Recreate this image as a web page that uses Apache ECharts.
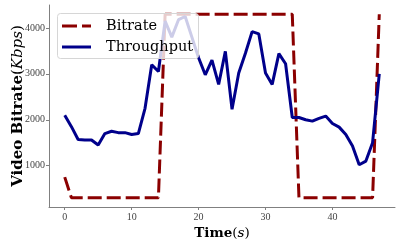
<!DOCTYPE html>
<html>
<head>
<meta charset="utf-8">
<script src="https://cdn.jsdelivr.net/npm/echarts@6/dist/echarts.min.js"></script>
<style>html,body{margin:0;padding:0;background:#fff}#c{width:407px;height:244px}</style>
</head>
<body>
<div id="c"></div>
<script>
var time = [0,1,2,3,4,5,6,7,8,9,10,11,12,13,14,15,16,17,18,19,20,21,22,23,24,25,26,27,28,29,30,31,32,33,34,35,36,37,38,39,40,41,42,43,44,45,46,47];
var bitrate = [750,300,300,300,300,300,300,300,300,300,300,300,300,300,300,4300,4300,4300,4300,4300,4300,4300,4300,4300,4300,4300,4300,4300,4300,4300,4300,4300,4300,4300,4300,300,300,300,300,300,300,300,300,300,300,300,300,4300];
var throughput = [2100,1850,1570,1560,1560,1450,1700,1750,1720,1720,1680,1700,2250,3200,3050,4150,3800,4180,4250,3800,3350,2980,3300,2770,3490,2230,3020,3450,3920,3870,3020,2770,3440,3220,2050,2050,2000,1970,2030,2080,1920,1840,1680,1430,1020,1100,1500,3000];
var xTicks = [0,10,20,30,40];
var yTicks = [1000,2000,3000,4000];

function pairs(xs, ys){ return xs.map(function(x,i){ return [x, ys[i]]; }); }

var serif = '"DejaVu Serif", "Liberation Serif", serif';
var tickFont = '"Liberation Serif", "DejaVu Serif", serif';
var chart = echarts.init(document.getElementById('c'), null, {renderer:'canvas'});
chart.setOption({
  animation: false,
  backgroundColor: '#fff',
  grid: {left: 49, right: 12, top: 5, bottom: 37, containLabel: false, outerBoundsMode: 'none'},
  legend: {
    left: 57, top: 13, orient: 'vertical', z: 1001,
    padding: [5, 6, 5, 5],
    itemWidth: 29, itemHeight: 3, itemGap: 5,
    textStyle: {fontFamily: serif, fontSize: 14.5, color: '#000', padding: [0,0,0,10], lineHeight: 16},
    data: [
      {name: 'Bitrate', icon: 'path://M0,0h15v3h-15z M20,0h9v3h-9z'},
      {name: 'Throughput', icon: 'path://M0,0h29v3h-29z'}
    ]
  },
  xAxis: {
    type: 'value', min: -2.35, max: 49.35,
    splitLine: {show: false},
    axisLine: {show: true, onZero: false, lineStyle: {color: '#808080', width: 1}},
    axisTick: {show: true, length: 3, lineStyle: {color: '#808080'}, customValues: xTicks},
    axisLabel: {fontFamily: tickFont, fontSize: 10, color: '#444', margin: 5, customValues: xTicks,
      formatter: function(v){ return String(v); }},
    name: '{b|Time}{n|(}{i|s}{n|)}', nameLocation: 'middle', nameGap: 13,
    nameTextStyle: {
      verticalAlign: 'top',
      rich: {
        b: {fontFamily: serif, fontSize: 13.5, fontWeight: 'bold', color: '#000'},
        n: {fontFamily: serif, fontSize: 13.5, color: '#000'},
        i: {fontFamily: serif, fontSize: 13.5, fontStyle: 'italic', color: '#000'}
      }
    }
  },
  yAxis: {
    type: 'value', min: 100, max: 4500,
    splitLine: {show: false},
    axisLine: {show: true, onZero: false, lineStyle: {color: '#808080', width: 1}},
    axisTick: {show: true, length: 3, lineStyle: {color: '#808080'}, customValues: yTicks},
    axisLabel: {fontFamily: tickFont, fontSize: 10, color: '#444', margin: 4, customValues: yTicks,
      formatter: function(v){ return String(v); }},
    name: '{b|Video Bitrate}{n|(}{i|Kbps}{n|)}', nameLocation: 'middle', nameGap: 23, nameRotate: 90,
    nameMoveOverlap: false,
    nameTextStyle: {
      rich: {
        b: {fontFamily: serif, fontSize: 15, fontWeight: 'bold', color: '#000'},
        n: {fontFamily: serif, fontSize: 15, color: '#000'},
        i: {fontFamily: serif, fontSize: 15, fontStyle: 'italic', color: '#000'}
      }
    }
  },
  series: [
    {
      name: 'Bitrate', type: 'line', data: pairs(time, bitrate), z: 2,
      showSymbol: false, symbol: 'none',
      lineStyle: {color: '#8b0000', width: 3, type: [14, 5]},
      itemStyle: {color: '#8b0000'}
    },
    {
      name: 'Throughput', type: 'line', data: pairs(time, throughput), z: 3,
      showSymbol: false, symbol: 'none',
      lineStyle: {color: '#00008b', width: 3},
      itemStyle: {color: '#00008b'}
    }
  ]
});
// Semi-transparent legend frame drawn straight into the zrender scene, above the series lines
var frame = new echarts.graphic.Rect({
  shape: {x: 57.5, y: 13.5, width: 141, height: 45, r: 3},
  style: {fill: 'rgba(255,255,255,0.8)', stroke: '#d6d6d6', lineWidth: 1},
  z: 1000, zlevel: 0, silent: true
});
chart.getZr().add(frame);
</script>
</body>
</html>
